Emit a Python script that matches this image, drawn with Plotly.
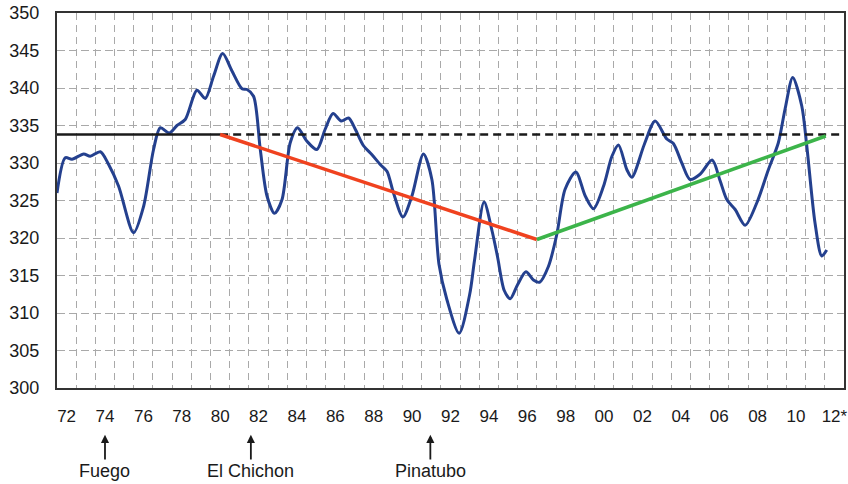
import plotly.graph_objects as go

# Blue series (year, value)
years = [1972.0, 1972.43, 1972.78, 1973.39, 1973.73, 1974.26, 1974.69, 1975.21, 1975.99, 1976.51,
         1977.03, 1977.38, 1977.85, 1978.25, 1978.68, 1979.29, 1979.72, 1980.16, 1980.63, 1981.11,
         1981.64, 1981.90, 1982.24, 1982.59, 1982.94, 1983.33, 1983.72, 1984.15, 1984.53, 1985.02,
         1985.54, 1985.97, 1986.38, 1986.81, 1987.19, 1987.54, 1987.97, 1988.41, 1988.84, 1989.19,
         1989.53, 1990.02, 1990.49, 1991.09, 1991.53, 1991.90, 1992.31, 1992.95, 1993.50, 1993.75,
         1994.25, 1994.66, 1994.95, 1995.30, 1995.61, 1996.00, 1996.43, 1996.82, 1997.14, 1997.60,
         1998.04, 1998.47, 1999.03, 1999.52, 1999.95, 2000.47, 2000.91, 2001.25, 2001.69, 2001.95,
         2002.60, 2003.16, 2003.77, 2004.11, 2004.55, 2004.98, 2005.50, 2006.13, 2006.55, 2006.90,
         2007.33, 2007.85, 2008.46, 2009.06, 2009.58, 2009.93, 2010.33, 2010.80, 2011.06, 2011.49,
         2011.84, 2012.10]
values = [326.0, 330.7, 330.5, 331.2, 330.9, 331.5, 329.8, 326.9, 320.7, 324.2,
          331.8, 334.7, 334.0, 335.0, 335.8, 339.7, 338.6, 341.6, 344.6, 342.3,
          339.9, 339.8, 338.9, 331.8, 325.6, 323.3, 325.1, 332.7, 334.7, 332.9,
          331.8, 334.5, 336.6, 335.6, 336.0, 334.5, 332.3, 331.1, 329.8, 328.9,
          326.0, 322.8, 325.6, 331.2, 327.8, 316.5, 311.8, 307.3, 312.5, 317.0,
          324.8, 321.0, 317.5, 313.0, 311.9, 313.8, 315.5, 314.4, 314.1, 316.2,
          320.5, 326.5, 328.8, 325.6, 323.9, 326.9, 330.9, 332.4, 329.1, 328.1,
          332.5, 335.6, 333.2, 332.6, 330.0, 327.8, 328.5, 330.4, 327.6, 325.1,
          323.8, 321.7, 324.7, 329.1, 332.7, 337.2, 341.4, 337.6, 332.3, 322.0,
          317.6, 318.4]

# Reference / trend lines
mean_level = 333.8
solid_x = [1972.0, 1980.5]
dashed_x = [1980.5, 2013.0]
red_x = [1980.5, 1997.0]
red_y = [333.8, 319.8]
green_x = [1997.0, 2012.05]
green_y = [319.8, 333.6]

# Axis labels
tick_pos = [1972.5 + 2 * i for i in range(21)]
tick_text = ["72", "74", "76", "78", "80", "82", "84", "86", "88", "90", "92",
             "94", "96", "98", "00", "02", "04", "06", "08", "10", "12*"]
y_ticks = list(range(300, 351, 5))

# Volcano markers
volcano_names = ["Fuego", "El Chichon", "Pinatubo"]
volcano_years = [1974.5, 1982.1, 1991.45]

fig = go.Figure()
fig.add_trace(go.Scatter(x=years, y=values, mode="lines",
                         line=dict(color="#24408e", width=3, shape="spline", smoothing=0.8),
                         hoverinfo="skip"))
fig.add_trace(go.Scatter(x=solid_x, y=[mean_level] * 2, mode="lines",
                         line=dict(color="#1a1a1a", width=2.5)))
fig.add_trace(go.Scatter(x=dashed_x, y=[mean_level] * 2, mode="lines",
                         line=dict(color="#1a1a1a", width=2.5, dash="8px,5px")))
fig.add_trace(go.Scatter(x=red_x, y=red_y, mode="lines",
                         line=dict(color="#f0421f", width=3.5)))
fig.add_trace(go.Scatter(x=green_x, y=green_y, mode="lines",
                         line=dict(color="#3cb44a", width=3.5)))

font_family = "Liberation Sans, Arial, sans-serif"
for name, yr in zip(volcano_names, volcano_years):
    fig.add_annotation(x=yr, y=-0.125, xref="x", yref="paper", text=name,
                       showarrow=True, arrowhead=2, arrowsize=0.9, arrowwidth=1.8,
                       arrowcolor="#1a1a1a", ax=0, ay=36, standoff=0,
                       font=dict(family=font_family, size=18, color="#1a1a1a"))

fig.update_layout(
    width=848, height=484,
    margin=dict(l=57, r=4, t=13, b=96),
    paper_bgcolor="white", plot_bgcolor="white",
    showlegend=False,
    font=dict(family=font_family, size=17, color="#1a1a1a"),
)
fig.update_xaxes(range=[1972, 2013], tickmode="array", tickvals=tick_pos, ticktext=tick_text,
                 showgrid=False, zeroline=False, ticks="", ticklabelstandoff=12,
                 automargin=False, ticklabeloverflow="allow",
                 showline=True, linecolor="#333333", linewidth=2, mirror=True,
                 tickfont=dict(size=17),
                 minor=dict(tick0=1973, dtick=1, showgrid=True, gridcolor="#a9a9a9",
                            griddash="7px,5px", gridwidth=1))
fig.update_yaxes(range=[300, 350], tickmode="array", tickvals=y_ticks,
                 showgrid=True, gridcolor="#a9a9a9", griddash="8px,4px", gridwidth=1,
                 zeroline=False, ticks="", ticklabelstandoff=12, automargin=False,
                 ticklabeloverflow="allow",
                 showline=True, linecolor="#333333", linewidth=2, mirror=True,
                 tickfont=dict(size=18))

# remove the default page margin so the 848x484 figure fills the window exactly
fig.write_html("out.html", config={"displayModeBar": False},
               post_script="document.body.style.margin='0';")
